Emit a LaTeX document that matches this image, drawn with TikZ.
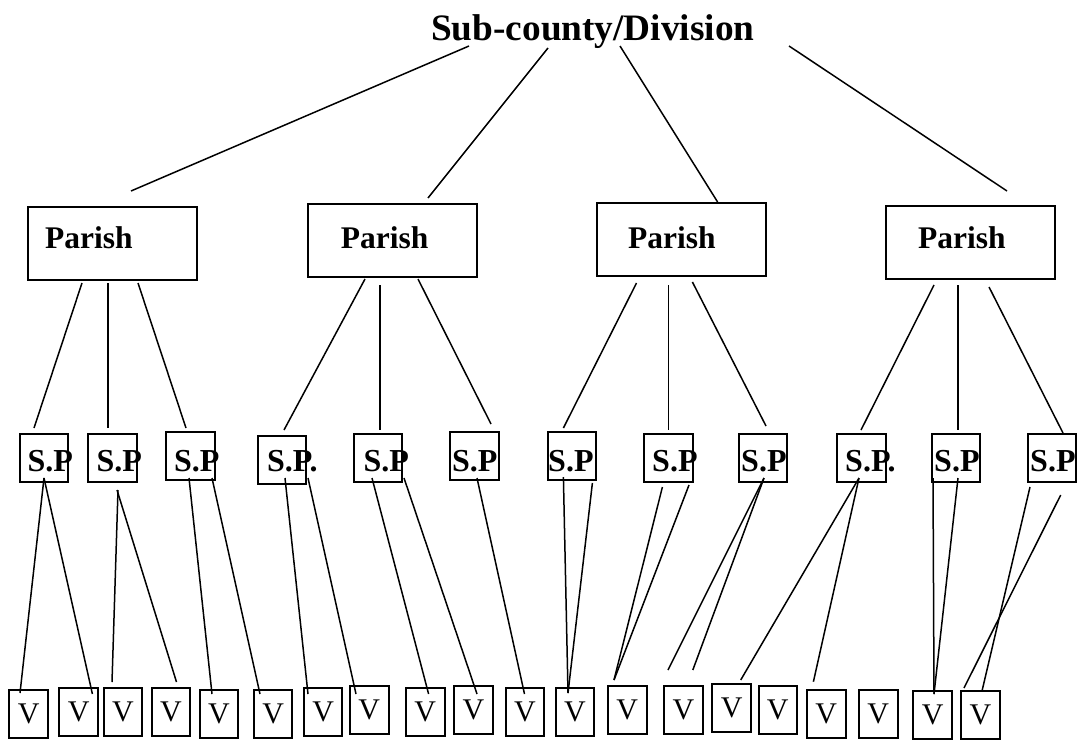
\documentclass[tikz,border=0pt]{standalone}
\usepackage{fontspec}
\setmainfont{Liberation Serif}
\tikzset{
  parishbox/.style={draw=black,line width=2pt,minimum width=169pt,minimum height=73pt,inner sep=0pt},
  spbox/.style={draw=black,line width=2pt,minimum width=48.5pt,minimum height=48pt,inner sep=0pt},
  vbox/.style={draw=black,line width=2pt,minimum width=38.5pt,minimum height=48pt,inner sep=0pt,
    font=\fontsize{30}{30}\selectfont},
  boldlabel/.style={anchor=base west,inner sep=0pt,font=\fontsize{31.5}{31.5}\selectfont\bfseries},
  splabel/.style={anchor=base west,inner sep=0pt,font=\fontsize{32}{32}\selectfont\bfseries},
  link/.style={draw=black,line width=1.5pt}
}
\begin{document}
\begin{tikzpicture}[x=1pt,y=-1pt]
\useasboundingbox (0,0) rectangle (1078,739);
% Top level
\node[anchor=base west,inner sep=0pt,font=\fontsize{37.3}{37.3}\selectfont\bfseries]
  (division) at (431,40) {Sub-county/Division};
% Parishes
\foreach \n/\x/\y/\tx in {1/112.1/243.5/45, 2/392.3/240/340.7,
                          3/681/239.5/628, 4/970.2/242/918}
{
        \node[parishbox] (parish\n) at (\x,\y) {};
        \node[boldlabel] (parish\n-txt) at (\tx,248) {Parish};
}
% Sub-parishes
\foreach \n/\x/\y/\tx/\txt in {1/43.9/458/27.5/S.P, 2/112.3/458/96.5/S.P,
                               3/190.3/456/174/S.P, 4/282/460/267/S.P.,
                               5/378/458/363.5/S.P, 6/474.5/456/452/S.P,
                               7/571.8/456/548/S.P, 8/668.4/458/652/S.P,
                               9/762.8/458/741/S.P, 10/861.5/458/845/S.P.,
                               11/955.9/458/934/S.P, 12/1052/458/1030/S.P}
{
        \node[spbox] (sp\n) at (\x,\y) {};
        \node[splabel] (sp\n-txt) at (\tx,471) {\txt};
}
% Villages
\foreach \n/\x/\y in {1/28.6/714, 2/78.6/712, 3/123/712, 4/171/712, 5/219/714,
                      6/273.2/714, 7/323.2/712, 8/369.3/710, 9/425.3/712,
                      10/473.5/710, 11/525/712, 12/575/712, 13/627.3/710,
                      14/683.4/710, 15/731.7/707.5, 16/777.8/710, 17/826.3/713.5,
                      18/878.3/713.5, 19/932.7/715, 20/980.5/715}
{
        \node[vbox] (v\n) at (\x,\y) {V};
}
% Division to parishes
\foreach \n/\xa/\ya/\xb/\yb in {1/469/46/131/191, 2/548/48/428/198,
                                3/620/46/717.6/202, 4/789/46/1007/191}
{
        \coordinate (dp\n-a) at (\xa,\ya);
        \coordinate (dp\n-b) at (\xb,\yb);
        \draw[link] (dp\n-a) -- (dp\n-b);
}
% Parishes to sub-parishes
\foreach \n/\xa/\ya/\xb/\yb in {1/82/283/34/428, 2/108/283/108/428, 3/138/283/186/428,
                                4/365/279/284/430, 5/380/285/380/430, 6/418/279/491/424,
                                7/636.5/283/563.4/428, 8/668.6/285/668.6/430,
                                9/692.4/282/766/426, 10/934/285/861/430,
                                11/958/285/958/430, 12/989/287/1063/433}
{
        \coordinate (ps\n-a) at (\xa,\ya);
        \coordinate (ps\n-b) at (\xb,\yb);
        \draw[link] (ps\n-a) -- (ps\n-b);
}
% Sub-parishes to villages
\foreach \n/\xa/\ya/\xb/\yb in {1/44/478/20/693, 2/44/478/92.4/694, 3/118/490/112/682,
                                4/117/490/176.5/682, 5/189/478/212/694, 6/212/478/260/694,
                                7/285/478/308/694, 8/308/478/356/694, 9/372/478/428.6/694,
                                10/404/478/477/694, 11/477/478/524.5/694,
                                12/563.4/477/568/693, 13/592.4/483/568/693,
                                14/662.4/487/614/680, 15/689/485/614/680,
                                16/764/478/668/670, 17/764/478/692.8/670,
                                18/859/478/740.7/680, 19/859/478/813.4/681.7,
                                20/933/478/934/694, 21/958/478/934/694,
                                22/1030/487/982/691, 23/1060.7/495/964/688}
{
        \coordinate (sv\n-a) at (\xa,\ya);
        \coordinate (sv\n-b) at (\xb,\yb);
        \draw[link] (sv\n-a) -- (sv\n-b);
}
\end{tikzpicture}
\end{document}
